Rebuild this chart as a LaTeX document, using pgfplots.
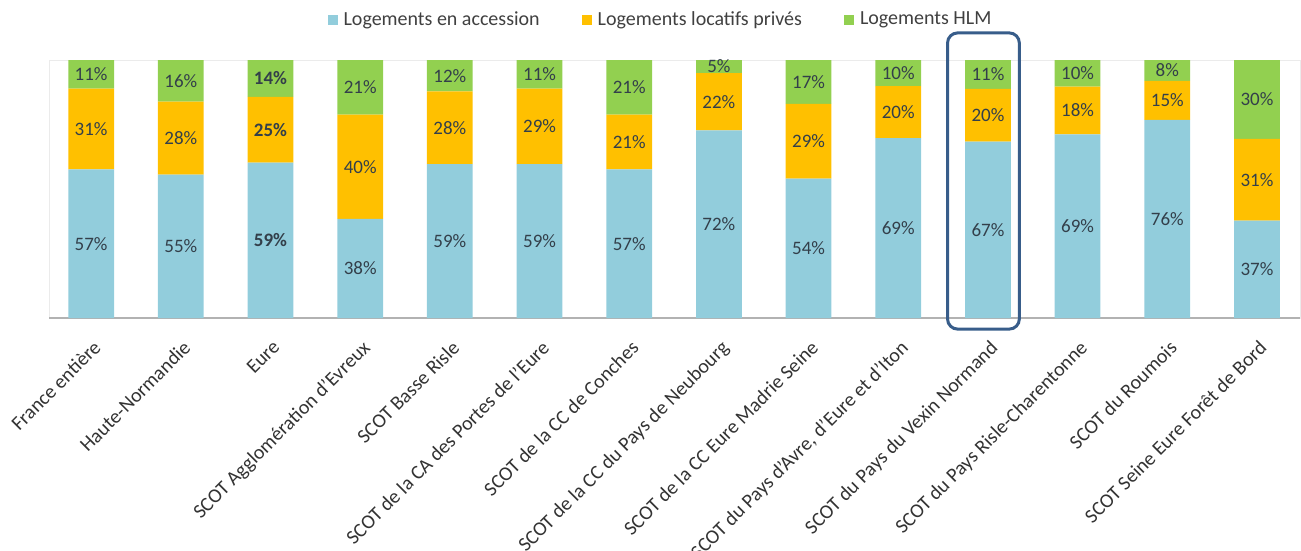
\documentclass[border=0pt]{standalone}
\usepackage{pgfplots}
\pgfplotsset{compat=1.18}
\usepackage{pgfplotstable}
\usepackage{fontspec}
\setmainfont{Carlito}

\definecolor{acc}{HTML}{92CDDC}
\definecolor{loc}{HTML}{FFC000}
\definecolor{hlm}{HTML}{92D050}
\definecolor{cadre}{HTML}{385D8A}
\definecolor{texte}{HTML}{333F4A}

% parts en % (les barres sont ramenees a 100)
\pgfplotstableread{
i  acc loc hlm
0  57  31  11
1  55  28  16
2  59  25  14
3  38  40  21
4  59  28  12
5  59  29  11
6  57  21  21
7  72  22  5
8  54  29  17
9  69  20  10
10 67  20  11
11 69  18  10
12 76  15  8
13 37  31  30
}\data

\pgfplotsset{
  seg/.style={
    draw=none, fill=#1,
    point meta=explicit,
    nodes near coords={\fontsize{9.5}{11}\selectfont\pgfmathprintnumber[assume math mode=true]{\pgfplotspointmeta}\%},
    every node near coord/.append style={anchor=center, text=texte, inner sep=0pt},
    coordinate style/.condition={x==2}{font=\bfseries, text=black},
  },
}

\begin{document}
\begin{tikzpicture}
\begin{axis}[
  ybar stacked,
  scale only axis,
  width=625.5pt, height=129pt,
  xmin=-0.47, xmax=13.48,
  ymin=0, ymax=100,
  bar width=0.51,
  clip=false,
  axis line style={black!8},
  ytick=\empty,
  extra y ticks={0}, extra y tick labels={},
  extra y tick style={ymajorgrids, major grid style={black!30, line width=1pt}},
  xtick={0,...,13},
  major tick length=0pt,
  xticklabels={France entière, Haute-Normandie, Eure, SCOT Agglomération d'Evreux,
    SCOT Basse Risle, SCOT de la CA des Portes de l'Eure, SCOT de la CC de Conches,
    SCOT de la CC du Pays de Neubourg, SCOT de la CC Eure Madrie Seine,
    {SCOT du Pays d'Avre, d'Eure et d'Iton}, SCOT du Pays du Vexin Normand,
    SCOT du Pays Risle-Charentonne, SCOT du Roumois, SCOT Seine Eure Forêt de Bord},
  xticklabel style={xshift=0.5pt, yshift=-9pt, rotate=45, anchor=north east, inner sep=1pt,
    font=\fontsize{10}{12}\selectfont, text=black!80},
  legend columns=3,
  legend style={at={(0.5,1)}, anchor=center, xshift=-6pt, yshift=20pt,
    draw=none, fill=none, font=\fontsize{10}{12}\selectfont, text=black!75,
    /tikz/every odd column/.append style={column sep=0pt},
    /tikz/every even column/.append style={column sep=18pt},
    nodes={inner xsep=3pt}},
  legend image code/.code={\path[#1] (0pt,-2.5pt) rectangle (5pt,2.5pt);},
]
\addplot[seg=acc] table[x=i, y expr={100*\thisrow{acc}/(\thisrow{acc}+\thisrow{loc}+\thisrow{hlm})}, meta=acc] {\data};
\addlegendentry{Logements en accession}
\addplot[seg=loc] table[x=i, y expr={100*\thisrow{loc}/(\thisrow{acc}+\thisrow{loc}+\thisrow{hlm})}, meta=loc] {\data};
\addlegendentry{Logements locatifs privés}
\addplot[seg=hlm] table[x=i, y expr={100*\thisrow{hlm}/(\thisrow{acc}+\thisrow{loc}+\thisrow{hlm})}, meta=hlm] {\data};
\addlegendentry{Logements HLM}
\draw[cadre, line width=1.5pt, rounded corners=5pt] (axis cs:9.55,-4.3) rectangle (axis cs:10.35,110.5);
\end{axis}
\pgfresetboundingbox
\path[use as bounding box] ([xshift=-24.5pt,yshift=-116.5pt]current axis.south west) rectangle ([xshift=0.5pt,yshift=30pt]current axis.north east);
\end{tikzpicture}
\end{document}
